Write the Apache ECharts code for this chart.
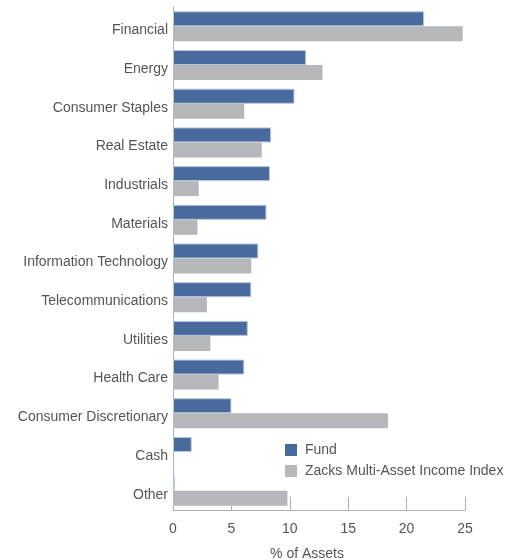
<!DOCTYPE html>
<html><head><meta charset="utf-8">
<script src="https://cdn.jsdelivr.net/npm/echarts@6/dist/echarts.min.js"></script>
<style>html,body{margin:0;padding:0;background:#fff}#c{width:517px;height:560px}</style>
</head><body><div id="c"></div>
<script>
const categories = ["Financial","Energy","Consumer Staples","Real Estate","Industrials","Materials","Information Technology","Telecommunications","Utilities","Health Care","Consumer Discretionary","Cash","Other"];
const fundValues = [21.5,11.4,10.4,8.4,8.3,8.0,7.3,6.7,6.4,6.1,5.0,1.6,0.15];
const indexValues = [24.8,12.8,6.1,7.6,2.2,2.1,6.7,2.9,3.2,3.9,18.4,0,9.8];
const xTicks = [0,5,10,15,20,25];
const seriesNames = ["Fund","Zacks Multi-Asset Income Index"];

const chart = echarts.init(document.getElementById('c'), null, {renderer:'canvas'});
const font = 'Liberation Sans';
chart.setOption({
  animation:false,
  grid:{left:173,right:52,top:7,bottom:50,containLabel:false,outerBoundsMode:'none'},
  legend:{
    orient:'vertical', left:285, top:443, padding:0, itemWidth:12, itemHeight:12, itemGap:7,
    icon:'rect',
    itemStyle:{borderWidth:0},
    textStyle:{fontFamily:font,fontSize:14,color:'#555',padding:[0,0,0,3]},
    data:seriesNames
  },
  xAxis:{
    type:'value', min:xTicks[0], max:xTicks[xTicks.length-1], interval:5,
    axisLine:{show:true,lineStyle:{color:'#b0b0b0',width:1}},
    axisTick:{show:true,inside:true,length:13,lineStyle:{color:'#b0b0b0'}},
    splitLine:{show:false},
    axisLabel:{fontFamily:font,fontSize:14,color:'#555',margin:12},
    name:'% of Assets', nameLocation:'middle', nameGap:37,
    nameTextStyle:{fontFamily:font,fontSize:14,color:'#555',padding:[0,24,0,0]}
  },
  yAxis:{
    type:'category', data:categories, inverse:true,
    axisLine:{show:true,lineStyle:{color:'#b0b0b0',width:1}},
    axisTick:{show:false},
    axisLabel:{fontFamily:font,fontSize:14,color:'#555',margin:5,verticalAlign:'top',lineHeight:8}
  },
  series:[
    {name:seriesNames[0],type:'bar',data:fundValues,barWidth:15,barGap:'0%',
     itemStyle:{color:'#486a9d',borderColor:'#b8c5da',borderWidth:1}},
    {name:seriesNames[1],type:'bar',data:indexValues,barWidth:15,
     itemStyle:{color:'#b6b7bb'}}
  ]
});
</script></body></html>
